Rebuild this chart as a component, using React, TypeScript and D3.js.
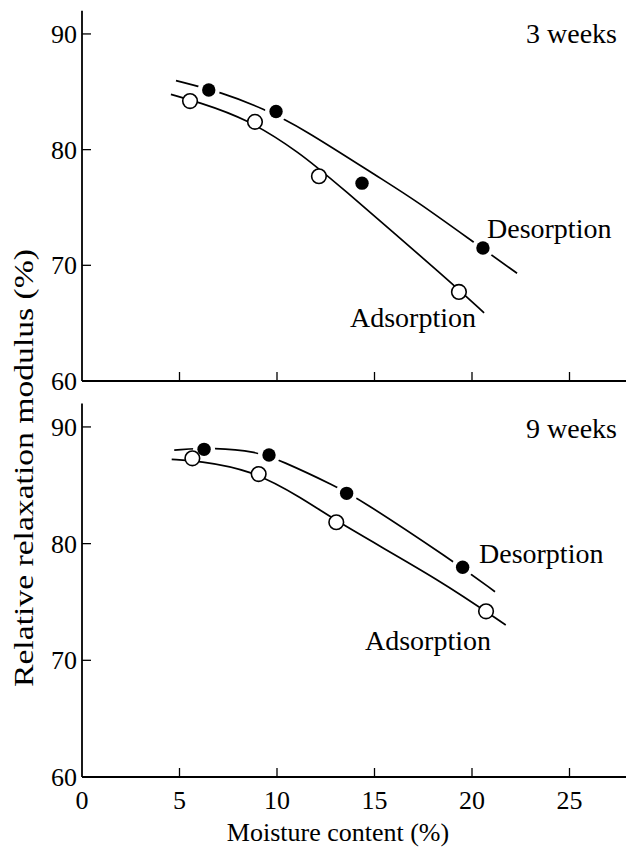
import React from "react";
import * as d3 from "d3";

// ---- data ----
const xTicks = [0, 5, 10, 15, 20, 25];
const yTicks = [60, 70, 80, 90];

// 3 weeks
const top_des_pts: [number, number][] = [
  [6.5, 85.15], [9.95, 83.3], [14.36, 77.1], [20.56, 71.5],
];
const top_ads_pts: [number, number][] = [
  [5.54, 84.2], [8.87, 82.4], [12.15, 77.7], [19.33, 67.7],
];
const top_des_curve: [number, number][] = [
  [4.82, 85.96], [7.23, 84.92], [9.33, 83.51], [11.18, 81.98],
  [15.44, 77.37], [17.08, 75.64], [20.05, 72.04], [22.31, 69.31],
];
const top_ads_curve: [number, number][] = [
  [4.56, 84.78], [5.9, 84.14], [8.51, 82.64], [11.18, 79.71],
  [12.87, 77.37], [18.97, 68.47], [20.62, 65.88],
];

// 9 weeks
const bot_des_pts: [number, number][] = [
  [6.26, 88.08], [9.59, 87.59], [13.57, 84.31], [19.52, 77.97],
];
const bot_ads_pts: [number, number][] = [
  [5.66, 87.31], [9.06, 85.96], [13.04, 81.83], [20.72, 74.2],
];
const bot_des_curve: [number, number][] = [
  [4.73, 88.02], [6.82, 88.25], [8.96, 87.87], [10.15, 87.16],
  [13.06, 84.88], [14.17, 83.88], [18.96, 78.59], [21.18, 75.88],
];
const bot_ads_curve: [number, number][] = [
  [4.6, 87.22], [5.96, 87.1], [8.7, 86.31], [11.18, 84.02],
  [13.49, 81.45], [18.36, 76.88], [21.73, 73.02],
];

const FONT = "'Liberation Serif', 'Times New Roman', serif";

const x = d3.scaleLinear().domain([0, 28]).range([82, 628]);

type PanelProps = {
  y: d3.ScaleLinear<number, number>;
  desPts: [number, number][];
  adsPts: [number, number][];
  desCurve: [number, number][];
  adsCurve: [number, number][];
  title: string;
  titleY: number;
  desLabel: [number, number];
  adsLabel: [number, number];
  showXLabels: boolean;
};

function Panel(p: PanelProps) {
  const { y } = p;
  const line = d3
    .line<[number, number]>()
    .x((d) => x(d[0]))
    .y((d) => y(d[1]))
    .curve(d3.curveBasis);
  const [y0, y1] = y.range();
  const x0 = x(0);
  return (
    <g>
      {/* axes */}
      <line x1={x0} x2={x0} y1={y1} y2={y0} stroke="#000" strokeWidth={1.8} />
      <line x1={x0} x2={626} y1={y0} y2={y0} stroke="#000" strokeWidth={1.8} />
      {yTicks.map((t) => (
        <g key={"y" + t}>
          <line x1={x0} x2={x0 + 9} y1={y(t)} y2={y(t)} stroke="#000" strokeWidth={1.3} />
          <text x={77} y={y(t)} dy="0.35em" textAnchor="end" fontSize={26} fontFamily={FONT}>
            {t}
          </text>
        </g>
      ))}
      {xTicks.filter((t) => t > 0).map((t) => (
        <line key={"x" + t} x1={x(t)} x2={x(t)} y1={y0} y2={y0 - 9} stroke="#000" strokeWidth={1.3} />
      ))}
      {p.showXLabels &&
        xTicks.map((t) => (
          <text key={"xl" + t} x={x(t)} y={y0 + 32} textAnchor="middle" fontSize={26} fontFamily={FONT}>
            {t}
          </text>
        ))}
      {/* desorption */}
      <path d={line(p.desCurve) || ""} fill="none" stroke="#000" strokeWidth={1.7} />
      {p.desPts.map((d, i) => (
        <circle key={"dh" + i} cx={x(d[0])} cy={y(d[1])} r={11} fill="#fff" />
      ))}
      {/* adsorption */}
      <path d={line(p.adsCurve) || ""} fill="none" stroke="#000" strokeWidth={1.7} />
      {p.desPts.map((d, i) => (
        <circle key={"d" + i} cx={x(d[0])} cy={y(d[1])} r={6.7} fill="#000" />
      ))}
      {p.adsPts.map((d, i) => (
        <circle key={"a" + i} cx={x(d[0])} cy={y(d[1])} r={7.3} fill="#fff" stroke="#000" strokeWidth={1.6} />
      ))}
      <text x={617} y={p.titleY} textAnchor="end" fontSize={28} fontFamily={FONT}>
        {p.title}
      </text>
      <text x={p.desLabel[0]} y={p.desLabel[1]} fontSize={28} fontFamily={FONT}>
        Desorption
      </text>
      <text x={p.adsLabel[0]} y={p.adsLabel[1]} fontSize={28} fontFamily={FONT}>
        Adsorption
      </text>
    </g>
  );
}

export default function App() {
  const yTop = d3.scaleLinear().domain([60, 92]).range([381, 10.8]);
  const yBot = d3.scaleLinear().domain([60, 92]).range([777, 403.6]);
  return (
    <svg
      width={626}
      height={849}
      style={{ position: "absolute", left: 0, top: 0, background: "#fff" }}
    >
      <rect width={626} height={849} fill="#fff" />
      <Panel
        y={yTop}
        desPts={top_des_pts}
        adsPts={top_ads_pts}
        desCurve={top_des_curve}
        adsCurve={top_ads_curve}
        title="3 weeks"
        titleY={43}
        desLabel={[487, 238]}
        adsLabel={[350, 327]}
        showXLabels={false}
      />
      <Panel
        y={yBot}
        desPts={bot_des_pts}
        adsPts={bot_ads_pts}
        desCurve={bot_des_curve}
        adsCurve={bot_ads_curve}
        title="9 weeks"
        titleY={438}
        desLabel={[479, 563]}
        adsLabel={[365, 650]}
        showXLabels={true}
      />
      <text x={338} y={841} textAnchor="middle" fontSize={26} fontFamily={FONT}>
        Moisture content (%)
      </text>
      <text
        transform="translate(33,468) rotate(-90)"
        textAnchor="middle"
        fontSize={28}
        fontFamily={FONT}
        textLength={438}
        lengthAdjust="spacingAndGlyphs"
      >
        Relative relaxation modulus (%)
      </text>
    </svg>
  );
}
